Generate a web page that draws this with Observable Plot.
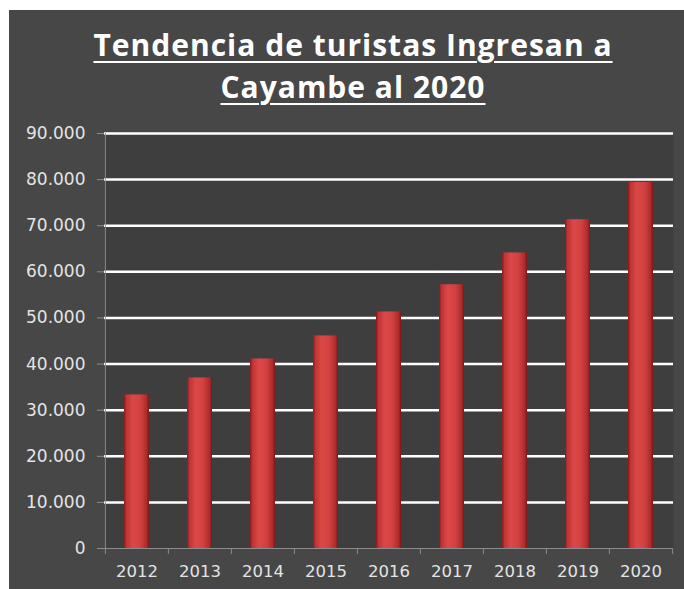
<!DOCTYPE html>
<html>
<head>
<meta charset="utf-8">
<script src="https://cdn.jsdelivr.net/npm/d3@7"></script>
<script src="https://cdn.jsdelivr.net/npm/@observablehq/plot@0.6"></script>
<style>
  html, body { margin: 0; padding: 0; background: #ffffff; }
  #wrap { position: relative; width: 684px; height: 589px; overflow: hidden; background: #ffffff; }
  #panel { position: absolute; left: 9px; top: 10px; width: 675px; height: 579px; background: #474747; }
  #title { position: absolute; left: 0; top: 24px; width: 706px; text-align: center;
    font-family: "Open Sans", Lato, sans-serif; font-weight: bold; font-size: 30px; line-height: 42px;
    letter-spacing: 1px;
    color: #ffffff; text-decoration: underline; text-decoration-thickness: 2px; text-underline-offset: 5px; }
  #chart { position: absolute; left: 9px; top: 118px; }
</style>
</head>
<body>
<div id="wrap">
  <div id="panel"></div>
  <div id="title">Tendencia de turistas Ingresan a<br>Cayambe al 2020</div>
  <div id="chart"></div>
</div>
<script>
const years = ["2012", "2013", "2014", "2015", "2016", "2017", "2018", "2019", "2020"];
const visitors = [33300, 37000, 41100, 46100, 51300, 57200, 64100, 71300, 79400];
const yTicks = [0, 10000, 20000, 30000, 40000, 50000, 60000, 70000, 80000, 90000];

const data = years.map((year, i) => ({year, value: visitors[i]}));

const W = 675, H = 471, mL = 95, mR = 11, mT = 15, mB = 41;
const step = (W - mL - mR) / years.length;
const locale = d3.formatLocale({decimal: ",", thousands: ".", grouping: [3], currency: ["", ""]});
const fmt = locale.format(",");
const axisGray = "#8c8c8c";
const labelColor = "#e4e4e4";

const chart = Plot.plot({
  width: W, height: H,
  marginLeft: mL, marginRight: mR, marginTop: mT, marginBottom: mB,
  style: {background: "transparent", fontFamily: "DejaVu Sans", fontSize: "16px", color: labelColor},
  x: {domain: years, paddingInner: 0.6, paddingOuter: 0.3, axis: null, label: null},
  y: {domain: [0, 90000], axis: null, label: null},
  marks: [
    Plot.frame({fill: "#3e3e3e", stroke: "none"}),
    Plot.ruleY(yTicks.filter(d => d > 0), {stroke: "#ffffff", strokeWidth: 2.5}),
    Plot.barY(data, {x: "year", y: "value", fill: "#c83a3a", className: "bars"}),
    Plot.ruleY([0], {stroke: axisGray, strokeWidth: 1}),
    Plot.ruleX([years[0]], {y1: 0, y2: 90000, dx: -step / 2, stroke: axisGray}),
    Plot.axisY({ticks: yTicks, tickSize: 7, tickPadding: 12, tickFormat: fmt, stroke: axisGray, fill: labelColor, fontSize: 17, label: null}),
    Plot.axisX({tickSize: 0, tickPadding: 17, fill: labelColor, fontSize: 16.5, label: null}),
    Plot.axisX({tickSize: 6, tickFormat: () => "", dx: -step / 2, stroke: axisGray, label: null}),
    Plot.axisX([years[years.length - 1]], {tickSize: 6, tickFormat: () => "", dx: step / 2, stroke: axisGray, label: null})
  ]
});

const svg = d3.select(chart);
const defs = svg.insert("defs", ":first-child");
const g = defs.append("linearGradient").attr("id", "barGrad").attr("x1", "0").attr("x2", "1").attr("y1", "0").attr("y2", "0");
[["0%", "#821b1b"], ["10%", "#bf3434"], ["35%", "#dc4848"], ["65%", "#d24141"], ["90%", "#ad2c2c"], ["100%", "#781717"]]
  .forEach(([o, c]) => g.append("stop").attr("offset", o).attr("stop-color", c));
svg.selectAll(".bars rect").attr("fill", "url(#barGrad)");

document.getElementById("chart").appendChild(chart);
</script>
</body>
</html>
